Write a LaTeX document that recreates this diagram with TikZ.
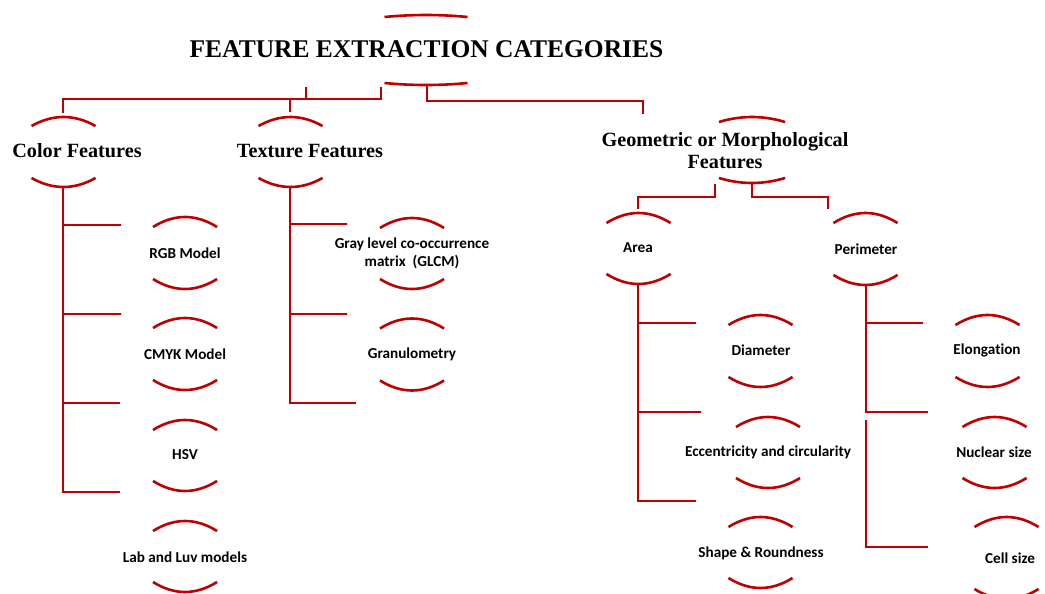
\documentclass[tikz,border=0pt]{standalone}
\usepackage{fontspec}
\setmainfont{Liberation Serif}
\newfontfamily\leaffont[Ligatures=NoCommon]{Carlito}
\definecolor{brk}{RGB}{192,0,0}
\newcommand\brackets[5]{% cx cy halfwidth sag peakoffset
  \pgfmathsetmacro\bkxa{#1-#3}\pgfmathsetmacro\bkxb{#1-#3/3}%
  \pgfmathsetmacro\bkxc{#1+#3/3}\pgfmathsetmacro\bkxd{#1+#3}%
  \pgfmathsetmacro\bkya{#2-#5+#4}\pgfmathsetmacro\bkyb{#2-#5-#4/3}%
  \pgfmathsetmacro\bkyc{#2+#5-#4}\pgfmathsetmacro\bkyd{#2+#5+#4/3}%
  \draw[arcline] (\bkxa,\bkya) .. controls (\bkxb,\bkyb) and (\bkxc,\bkyb) .. (\bkxd,\bkya);
  \draw[arcline] (\bkxa,\bkyc) .. controls (\bkxb,\bkyd) and (\bkxc,\bkyd) .. (\bkxd,\bkyc);
}
\tikzset{
  arcline/.style={draw=brk, line width=2.6pt},
  conn/.style={draw=brk, line width=2.8pt},
  titletext/.style={inner sep=0pt, font=\fontsize{25.5}{30}\selectfont\bfseries},
  cattext/.style={inner sep=0pt, align=center, font=\fontsize{20.2}{22}\selectfont\bfseries},
  leaftext/.style={inner sep=0pt, align=center, font=\leaffont\fontsize{15.2}{18}\selectfont\bfseries},
}
\begin{document}
\begin{tikzpicture}[x=1pt, y=-1pt]
\useasboundingbox (0,0) rectangle (1045,594);

% ---- nodes ----
\node[titletext] (title) at (426.5,49) {FEATURE EXTRACTION CATEGORIES};
\node[cattext] (color) at (77,151) {Color Features};
\node[cattext] (texture) at (310,151) {Texture Features};
\node[cattext] (geom) at (725,151) {Geometric or Morphological\\Features};

\node[leaftext] (rgb) at (185,253) {RGB Model};
\node[leaftext] (cmyk) at (185,354) {CMYK Model};
\node[leaftext] (hsv) at (185,455) {HSV};
\node[leaftext] (lab) at (185,557) {Lab and Luv models};

\node[leaftext] (glcm) at (412,253) {Gray level co-occurrence\\matrix\ \ (GLCM)};
\node[leaftext] (gran) at (412,354) {Granulometry};

\node[leaftext] (area) at (638,248) {Area};
\node[leaftext] (perim) at (866,249) {Perimeter};

\node[leaftext] (diam) at (761,350) {Diameter};
\node[leaftext] (ecc) at (768,452) {Eccentricity and circularity};
\node[leaftext] (shape) at (761,553) {Shape \& Roundness};

\node[leaftext] (elong) at (987,350) {Elongation};
\node[leaftext] (nuc) at (994,452) {Nuclear size};
\node[leaftext] (cell) at (1010,558) {Cell size};

% ---- bracket arcs ----
\brackets{426}{50}{41.5}{2}{35}
\brackets{63.5}{152}{32}{9}{35}
\brackets{290.5}{152}{32}{9}{35}
\brackets{752}{150}{33}{5}{33}

\brackets{185}{253}{32}{10}{36}
\brackets{185}{354}{32}{10}{36}
\brackets{185}{455.5}{32}{10}{35.5}
\brackets{185}{556.5}{32}{10}{35.5}

\brackets{412}{253.5}{32}{10}{35.5}
\brackets{412}{354.5}{32}{10}{36}

\brackets{638.5}{248.5}{32}{10}{35.5}
\brackets{865.5}{249}{32}{10}{36}

\brackets{760.5}{351}{32}{10}{36}
\brackets{768}{452.5}{32}{10}{35.5}
\brackets{760.5}{552.5}{32}{10}{35.5}

\brackets{987.5}{351}{32}{10}{36}
\brackets{994.5}{452.5}{32}{10}{35.5}
\brackets{1006.5}{558}{32}{10}{41}

% ---- connector coordinates ----
\coordinate (titleL) at (381,87);
\coordinate (titleStub) at (306,87);
\coordinate (titleR) at (427,85);
\coordinate (colorT) at (63,113);
\coordinate (textureT) at (290,112);
\coordinate (geomT) at (643,114);
\coordinate (colorB) at (63,187);
\coordinate (textureB) at (290,187);
\coordinate (geomBL) at (715,184);
\coordinate (geomBR) at (752,184);
\coordinate (areaT) at (638,209);
\coordinate (perimT) at (828,209);
\coordinate (areaB) at (638,284);
\coordinate (perimB) at (866,285);

\coordinate (rgbC) at (121,225);
\coordinate (cmykC) at (121,314);
\coordinate (hsvC) at (120,403);
\coordinate (labC) at (120,492);
\coordinate (glcmC) at (347,224);
\coordinate (granC) at (347,314);
\coordinate (texEnd) at (356,403);
\coordinate (diamC) at (696,323);
\coordinate (eccC) at (701,412);
\coordinate (shapeC) at (696,501);
\coordinate (elongC) at (923,323);
\coordinate (nucC) at (928,412);
\coordinate (cellS) at (866,420);
\coordinate (cellC) at (928,547);

% ---- connectors ----
\draw[conn] (titleL) |- (99,99) -| (colorT);
\draw[conn] (titleStub) -- (306,99);
\draw[conn] (290,99) -- (textureT);
\draw[conn] (titleR) |- (643,101) -- (geomT);

\draw[conn] (colorB) |- (labC);
\draw[conn] (63,225) -- (rgbC);
\draw[conn] (63,314) -- (cmykC);
\draw[conn] (63,403) -- (hsvC);

\draw[conn] (textureB) |- (texEnd);
\draw[conn] (290,224) -- (glcmC);
\draw[conn] (290,314) -- (granC);

\draw[conn] (geomBL) |- (676,197) -| (areaT);
\draw[conn] (geomBR) |- (790,197) -| (perimT);

\draw[conn] (areaB) |- (shapeC);
\draw[conn] (638,323) -- (diamC);
\draw[conn] (638,412) -- (eccC);

\draw[conn] (perimB) |- (nucC);
\draw[conn] (866,323) -- (elongC);
\draw[conn] (cellS) |- (cellC);
\end{tikzpicture}
\end{document}
